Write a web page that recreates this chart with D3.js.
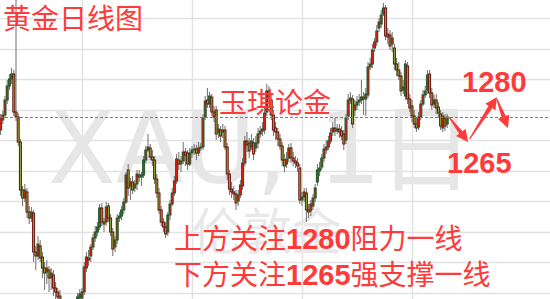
<!DOCTYPE html>
<html>
<head>
<meta charset="utf-8">
<script src="https://cdn.jsdelivr.net/npm/d3@7"></script>
<style>
  body { margin: 0; background: #fff; }
  svg { display: block; }
</style>
</head>
<body>
<div id="chart"></div>
<script>
// daily XAU candles
const opens = [
  1260, 1268, 1272, 1284, 1295.2, 1300.8, 1304.8, 1274.4, 1270.4, 1250.4,
  1212, 1205.6, 1210.4, 1194.4, 1189.6, 1193.6, 1162.4, 1159.2, 1167.2, 1158.4,
  1149.6, 1146.4, 1148, 1141.6, 1144, 1133.6, 1130.4, 1127.2, 1122.4, 1119.2,
  1120.8, 1116.8, 1119.2, 1115.2, 1120.8, 1123.2, 1125.6, 1125.6, 1130.4, 1149.6,
  1157.6, 1159.2, 1166.4, 1173.6, 1178.4, 1182.4, 1197.6, 1186.4, 1186.4, 1199.2,
  1189.6, 1178.4, 1166.4, 1172, 1189.6, 1191.2, 1196, 1202.4, 1228, 1215.2,
  1218.4, 1213.6, 1216.8, 1224, 1222.4, 1224, 1236, 1244, 1245.6, 1238.4,
  1236, 1220.8, 1209.6, 1196, 1186.4, 1182.4, 1178.4, 1192, 1200.8, 1209.6,
  1219.2, 1236, 1232.8, 1235.2, 1242.4, 1241.6, 1232.8, 1241.6, 1244, 1244.8,
  1241.6, 1245.6, 1246.4, 1270.4, 1284, 1280.8, 1286.4, 1274.4, 1276, 1258.4,
  1260, 1258.4, 1260, 1246.4, 1224.8, 1212.8, 1210.4, 1208.8, 1203.2, 1208,
  1215.2, 1233.6, 1251.2, 1249.6, 1246.4, 1249.6, 1245.6, 1249.6, 1256.8, 1259.2,
  1260, 1274.4, 1291.2, 1284, 1272, 1261.6, 1258.4, 1252.8, 1247.2, 1236,
  1232.8, 1237.6, 1245.6, 1237.6, 1235.2, 1233.6, 1229.6, 1204, 1206.4, 1209.6,
  1196, 1195.2, 1199.2, 1205.6, 1218.4, 1227.2, 1230.4, 1237.6, 1244, 1246.4,
  1251.2, 1258.4, 1261.6, 1259.2, 1260.8, 1259.2, 1256.8, 1252, 1271.2, 1284,
  1284.8, 1276, 1280, 1282.4, 1284, 1286.4, 1284.8, 1288, 1310.4, 1312.8,
  1325.6, 1330.4, 1341.6, 1344.8, 1352.8, 1357.6, 1336.8, 1336, 1328.8, 1325.6,
  1312.8, 1308, 1303.2, 1292, 1287.2, 1311.2, 1284.8, 1279.2, 1271.2, 1264.8,
  1262.4, 1270.4, 1280.8, 1288, 1292, 1304.8, 1289.6, 1280.8, 1284, 1278.4,
  1272.8, 1261.6, 1269.6, 1264.8
];
const highs = [
  1272.8, 1275.2, 1287.2, 1300, 1304.8, 1309.6, 1308, 1364, 1273.6, 1252.8,
  1215.2, 1216.8, 1213.6, 1199.2, 1198.4, 1196, 1167.2, 1175.2, 1172, 1162.4,
  1154.4, 1156, 1151.2, 1149.6, 1148, 1138.4, 1133.6, 1132, 1123.2, 1123.2,
  1122.4, 1122.4, 1121.6, 1122.4, 1124, 1129.6, 1132.8, 1133.6, 1154.4, 1162.4,
  1164, 1168.8, 1176.8, 1183.2, 1186.4, 1200.8, 1201.6, 1189.6, 1202.4, 1201.6,
  1192.8, 1181.6, 1175.2, 1192.8, 1194.4, 1199.2, 1205.6, 1226.4, 1232.8, 1221.6,
  1223.2, 1220, 1228, 1228, 1226.4, 1239.2, 1247.2, 1256.8, 1248.8, 1244,
  1239.2, 1224.8, 1213.6, 1199.2, 1189.6, 1186.4, 1194.4, 1204, 1213.6, 1223.2,
  1240.8, 1242.4, 1239.2, 1250.4, 1245.6, 1244, 1245.6, 1247.2, 1248.8, 1248,
  1250.4, 1249.6, 1272.8, 1287.2, 1293.6, 1290.4, 1288.8, 1279.2, 1279.2, 1264.8,
  1263.2, 1264.8, 1263.2, 1249.6, 1228, 1218.4, 1215.2, 1212, 1212, 1220,
  1237.6, 1255.2, 1258.4, 1253.6, 1256.8, 1253.6, 1255.2, 1261.6, 1263.2, 1266.4,
  1277.6, 1296.8, 1295.2, 1288, 1276, 1266.4, 1261.6, 1256.8, 1250.4, 1240.8,
  1242.4, 1248.8, 1249.6, 1242.4, 1239.2, 1237.6, 1232.8, 1210.4, 1213.6, 1213.6,
  1200.8, 1204, 1208.8, 1216.8, 1232.8, 1234.4, 1240.8, 1248.8, 1252, 1255.2,
  1261.6, 1266.4, 1269.6, 1264.8, 1264.8, 1263.2, 1260, 1272.8, 1288.8, 1290.4,
  1288, 1284, 1287.2, 1288.8, 1300, 1290.4, 1293.6, 1314.4, 1317.6, 1328.8,
  1333.6, 1344, 1349.6, 1356, 1361.6, 1360, 1341.6, 1340, 1338.4, 1328.8,
  1317.6, 1314.4, 1306.4, 1300, 1316, 1314.4, 1288.8, 1284, 1276, 1269.6,
  1274.4, 1284, 1292, 1295.2, 1308, 1308, 1293.6, 1288, 1288.8, 1282.4,
  1276, 1274.4, 1272.8, 1272.8
];
const lows = [
  1256, 1264.8, 1269.6, 1280.8, 1292, 1296.8, 1271.2, 1267.2, 1247.2, 1207.2,
  1199.2, 1202.4, 1189.6, 1184.8, 1186.4, 1154.4, 1148, 1156, 1154.4, 1141.6,
  1132, 1136.8, 1130.4, 1132, 1127.2, 1124, 1121.6, 1119.2, 1114.4, 1116,
  1112.8, 1114.4, 1111.2, 1112.8, 1117.6, 1120.8, 1122.4, 1123.2, 1128, 1146.4,
  1151.2, 1154.4, 1164, 1170.4, 1175.2, 1180, 1183.2, 1178.4, 1183.2, 1186.4,
  1175.2, 1159.2, 1162.4, 1168.8, 1186.4, 1188, 1192.8, 1200.8, 1207.2, 1204,
  1208.8, 1210.4, 1212, 1218.4, 1215.2, 1221.6, 1233.6, 1242.4, 1236, 1231.2,
  1216.8, 1205.6, 1192.8, 1183.2, 1178.4, 1173.6, 1175.2, 1188, 1199.2, 1207.2,
  1216.8, 1228, 1226.4, 1232.8, 1231.2, 1228, 1231.2, 1237.6, 1240, 1236,
  1239.2, 1243.2, 1244, 1268, 1277.6, 1277.6, 1271.2, 1266.4, 1252, 1253.6,
  1250.4, 1253.6, 1244, 1220, 1208, 1205.6, 1204, 1196, 1199.2, 1205.6,
  1212, 1231.2, 1242.4, 1237.6, 1244, 1236, 1242.4, 1245.6, 1253.6, 1255.2,
  1256.8, 1271.2, 1280.8, 1268, 1255.2, 1252, 1247.2, 1244, 1231.2, 1226.4,
  1229.6, 1234.4, 1233.6, 1231.2, 1229.6, 1226.4, 1200.8, 1199.2, 1202.4, 1186.4,
  1189.6, 1191.2, 1196, 1202.4, 1215.2, 1223.2, 1228, 1234.4, 1240.8, 1244,
  1248.8, 1255.2, 1255.2, 1256.8, 1253.6, 1252, 1244, 1248.8, 1268, 1280.8,
  1261.6, 1271.2, 1276, 1279.2, 1280.8, 1272, 1271.2, 1285.6, 1308, 1309.6,
  1322.4, 1327.2, 1338.4, 1341.6, 1351.2, 1332, 1328.8, 1324, 1322.4, 1308,
  1303.2, 1300, 1287.2, 1288.8, 1284, 1280.8, 1274.4, 1266.4, 1261.6, 1258.4,
  1260, 1268, 1279.2, 1285.6, 1288.8, 1285.6, 1276, 1277.6, 1272.8, 1269.6,
  1260, 1258.4, 1259.2, 1261.6
];
const closes = [
  1269.6, 1272, 1284, 1295.2, 1300.8, 1304.8, 1274.4, 1270.4, 1250.4, 1212,
  1205.6, 1212, 1194.4, 1189.6, 1194.4, 1162.4, 1159.2, 1168.8, 1157.6, 1149.6,
  1145.6, 1149.6, 1141.6, 1145.6, 1133.6, 1130.4, 1126.4, 1124, 1119.2, 1121.6,
  1116.8, 1120, 1115.2, 1120.8, 1123.2, 1126.4, 1128.8, 1130.4, 1150.4, 1158.4,
  1156, 1166.4, 1173.6, 1178.4, 1182.4, 1197.6, 1186.4, 1184.8, 1198.4, 1189.6,
  1178.4, 1164.8, 1172, 1189.6, 1191.2, 1196, 1202.4, 1224, 1213.6, 1218.4,
  1212, 1216.8, 1224.8, 1222.4, 1224, 1236, 1244, 1246.4, 1238.4, 1236,
  1220.8, 1209.6, 1196, 1186.4, 1182.4, 1176.8, 1192, 1200.8, 1209.6, 1219.2,
  1236.8, 1232.8, 1235.2, 1242.4, 1240, 1232.8, 1241.6, 1244, 1244.8, 1241.6,
  1245.6, 1246.4, 1269.6, 1283.2, 1280.8, 1287.2, 1274.4, 1270.4, 1256.8, 1260.8,
  1255.2, 1260, 1246.4, 1224.8, 1212.8, 1210.4, 1208.8, 1201.6, 1208, 1216,
  1233.6, 1251.2, 1248, 1243.2, 1251.2, 1240.8, 1249.6, 1256.8, 1259.2, 1260.8,
  1273.6, 1291.2, 1285.6, 1272, 1260, 1258.4, 1252.8, 1247.2, 1236, 1231.2,
  1236.8, 1245.6, 1237.6, 1235.2, 1233.6, 1231.2, 1204, 1206.4, 1210.4, 1196,
  1194.4, 1200.8, 1205.6, 1213.6, 1228, 1229.6, 1237.6, 1244.8, 1246.4, 1251.2,
  1257.6, 1261.6, 1259.2, 1260.8, 1258.4, 1255.2, 1248.8, 1269.6, 1284, 1285.6,
  1264.8, 1280, 1282.4, 1284, 1286.4, 1284.8, 1288.8, 1310.4, 1312.8, 1324,
  1330.4, 1339.2, 1346.4, 1352, 1357.6, 1335.2, 1334.4, 1327.2, 1333.6, 1312.8,
  1308, 1303.2, 1291.2, 1294.4, 1312.8, 1284.8, 1277.6, 1271.2, 1264.8, 1261.6,
  1270.4, 1280.8, 1288, 1291.2, 1304, 1289.6, 1280, 1284, 1277.6, 1273.6,
  1263.2, 1271.2, 1263.2, 1270.4
];

// vertical grid sits on these bars
const gridBars = [37, 87, 137, 187];

// forecast path: last bar -> 1265 -> 1280 -> pullback
const pathBars = [203.8, 212.5, 225.6, 230.6];
const pathPrices = [1270.4, 1250.4, 1286.4, 1261.6];

const width = 550;
const height = 299;
const red = "#ff3a3a";
const cjk = "'Noto Sans CJK SC', sans-serif";

const svg = d3.select("#chart")
    .append("svg")
    .attr("width", width)
    .attr("height", height);

const n = closes.length;
const x = d3.scaleLinear().domain([0, n - 1]).range([0.6, 0.6 + 2.2 * (n - 1)]);
const y = d3.scaleLinear().domain([1364, 1124.8]).range([0, height]);

// grid
const gridLevels = d3.range(10).map(k => 1129.6 + 24.45 * k);
svg.append("g")
    .selectAll("line")
    .data(gridLevels)
    .enter().append("line")
    .attr("x1", 0).attr("x2", width)
    .attr("y1", d => Math.round(y(d)) + 0.5)
    .attr("y2", d => Math.round(y(d)) + 0.5)
    .attr("stroke", "#e2e2e2")
    .attr("stroke-width", 1.5);

svg.append("g")
    .selectAll("line")
    .data(gridBars)
    .enter().append("line")
    .attr("x1", d => Math.round(x(d)) + 0.5)
    .attr("x2", d => Math.round(x(d)) + 0.5)
    .attr("y1", 0).attr("y2", height)
    .attr("stroke", "#e2e2e2")
    .attr("stroke-width", 1.5);

// watermarks
const wm = svg.append("text")
    .attr("y", 183)
    .attr("fill", "#e6e6e6")
    .attr("font-family", "'DejaVu Sans', sans-serif")
    .attr("font-size", 99);
wm.append("tspan").attr("x", 48).text("XAU,");
wm.append("tspan").attr("x", 318).text("1");
wm.append("tspan").attr("x", 378).attr("font-family", cjk).attr("font-size", 96).text("日");

svg.append("text")
    .attr("x", 192).attr("y", 250)
    .attr("fill", "#e8e8e8")
    .attr("font-family", cjk)
    .attr("font-size", 50)
    .text("伦敦金");

// candles
const bars = d3.range(n);
svg.append("g")
    .selectAll("line")
    .data(bars)
    .enter().append("line")
    .attr("x1", i => x(i)).attr("x2", i => x(i))
    .attr("y1", i => y(highs[i]))
    .attr("y2", i => y(lows[i]))
    .attr("stroke", "#6e6e6e")
    .attr("stroke-width", 1);

svg.append("g")
    .selectAll("rect")
    .data(bars)
    .enter().append("rect")
    .attr("x", i => x(i) - 1)
    .attr("width", 2)
    .attr("y", i => y(Math.max(opens[i], closes[i])))
    .attr("height", i => Math.max(0.8, Math.abs(y(opens[i]) - y(closes[i]))))
    .attr("fill", i => closes[i] >= opens[i] ? "#f0120c" : "#86b233")
    .attr("stroke", i => closes[i] >= opens[i] ? "#1b5a2b" : "#6a130f")
    .attr("stroke-width", 1);

// last price line
svg.append("line")
    .attr("x1", 0).attr("x2", width)
    .attr("y1", Math.round(y(closes[n - 1])) + 0.5)
    .attr("y2", Math.round(y(closes[n - 1])) + 0.5)
    .attr("stroke", "#48a822")
    .attr("stroke-width", 1)
    .attr("stroke-dasharray", "3,2");

// arrows
function arrow(x1, y1, x2, y2, hl, hw) {
    const dx = x2 - x1, dy = y2 - y1;
    const len = Math.hypot(dx, dy);
    const ux = dx / len, uy = dy / len;
    const nx = -uy, ny = ux;
    const bx = x2 - ux * hl, by = y2 - uy * hl;
    const w0 = 0.6, w1 = 2.2;
    return [
        [x1 + nx * w0, y1 + ny * w0],
        [bx + nx * w1, by + ny * w1],
        [bx + nx * hw, by + ny * hw],
        [x2, y2],
        [bx - nx * hw, by - ny * hw],
        [bx - nx * w1, by - ny * w1],
        [x1 - nx * w0, y1 - ny * w0]
    ];
}
const pts = pathBars.map((b, k) => [x(b), y(pathPrices[k])]);
const legs = [[pts[0], pts[1]], [[pts[1][0] + 1.5, pts[1][1] - 3], pts[2]], [[pts[2][0], pts[2][1] + 2], pts[3]]];
svg.append("g")
    .selectAll("polygon")
    .data(legs)
    .enter().append("polygon")
    .attr("points", d => arrow(d[0][0], d[0][1], d[1][0], d[1][1], 12, 6).map(p => p.join(",")).join(" "))
    .attr("fill", red);

// labels
svg.append("text")
    .attr("x", 3).attr("y", 29)
    .attr("fill", red)
    .attr("font-family", cjk)
    .attr("font-size", 28)
    .text("黄金日线图");

svg.append("text")
    .attr("x", 219).attr("y", 113)
    .attr("fill", red)
    .attr("font-family", cjk)
    .attr("font-size", 28)
    .text("玉琪论金");

svg.append("text")
    .attr("x", 462).attr("y", 92)
    .attr("fill", red)
    .attr("font-family", "'Liberation Sans', Arial, sans-serif")
    .attr("font-weight", "bold")
    .attr("font-size", 29)
    .text("1280");

svg.append("text")
    .attr("x", 447).attr("y", 173)
    .attr("fill", red)
    .attr("font-family", "'Liberation Sans', Arial, sans-serif")
    .attr("font-weight", "bold")
    .attr("font-size", 29)
    .text("1265");

const notes = [
    ["上方关注", "1280", "阻力一线"],
    ["下方关注", "1265", "强支撑一线"]
];
notes.forEach((parts, k) => {
    const t = svg.append("text")
        .attr("x", 174).attr("y", 249 + k * 36)
        .attr("fill", red)
        .attr("font-family", cjk)
        .attr("font-size", 28);
    t.append("tspan").text(parts[0]);
    t.append("tspan")
        .attr("font-family", "'Liberation Sans', Arial, sans-serif")
        .attr("font-weight", "bold")
        .attr("font-size", 29)
        .text(parts[1]);
    t.append("tspan").text(parts[2]);
});
</script>
</body>
</html>
